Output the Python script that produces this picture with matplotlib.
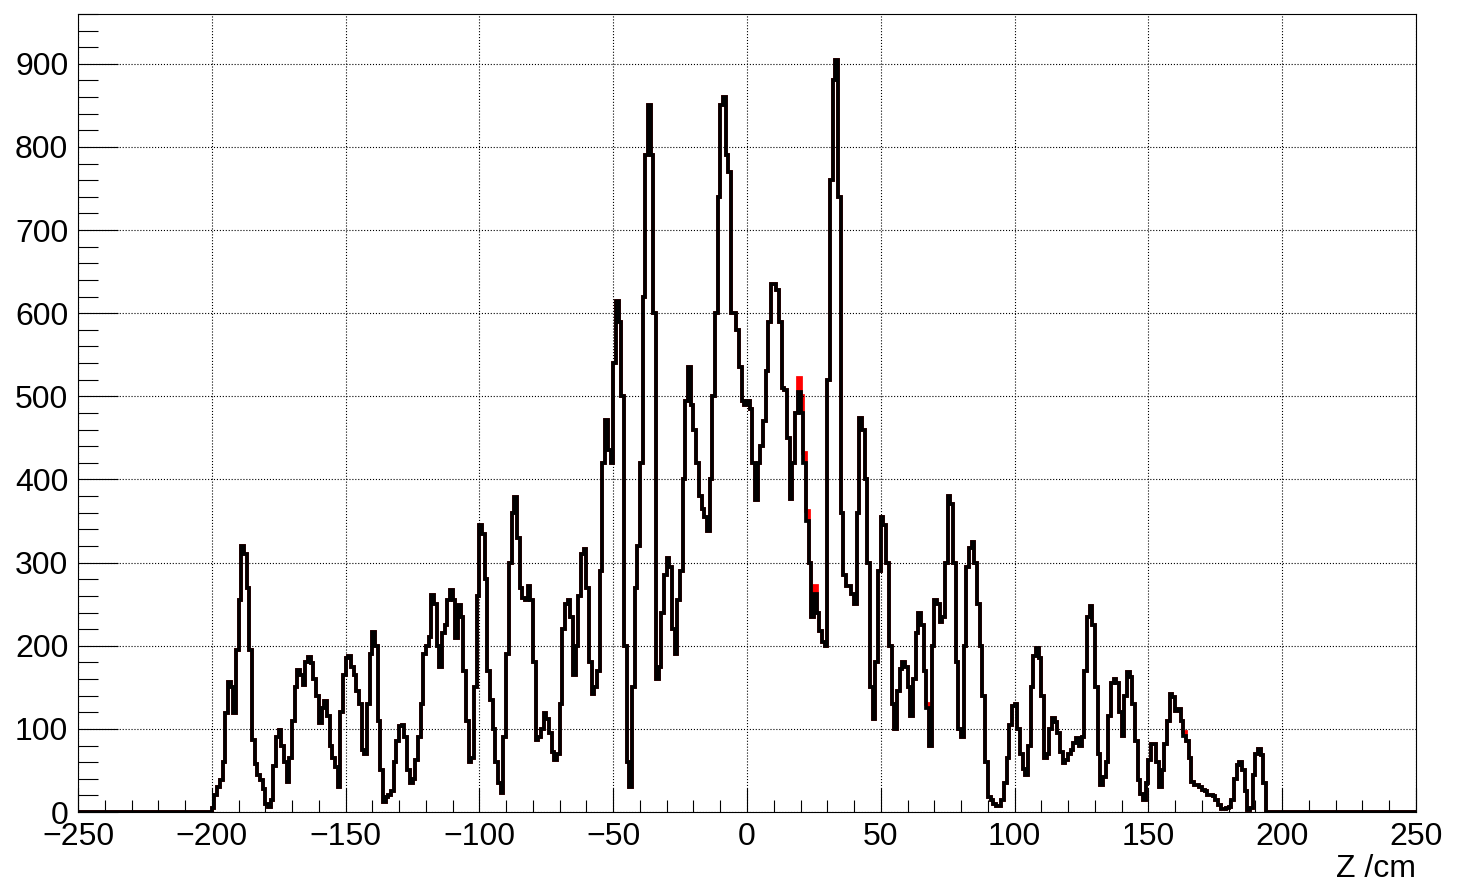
import numpy as np
import matplotlib.pyplot as plt
from matplotlib.ticker import MultipleLocator

plt.rcParams['font.family'] = ['Liberation Sans', 'DejaVu Sans']

# entries per 1 cm bin, starting at Z = -200 cm (empty outside)
z_start = -200
counts = [
    5, 20, 30, 38, 60, 119, 156, 150, 119, 195,            # -200 .. -191
    255, 320, 310, 270, 195, 87, 58, 45, 38, 28,          # -190 .. -181
    10, 6, 14, 55, 90, 99, 80, 60, 36, 65,                # -180 .. -171
    110, 150, 171, 165, 153, 180, 187, 179, 160, 140,     # -170 .. -161
    107, 125, 133, 115, 80, 65, 54, 30, 120, 165,         # -160 .. -151
    185, 188, 175, 165, 145, 130, 75, 70, 130, 190,       # -150 .. -141
    217, 200, 110, 50, 12, 18, 20, 25, 60, 85,            # -140 .. -131
    103, 105, 90, 50, 35, 40, 63, 90, 130, 190,           # -130 .. -121
    200, 210, 261, 250, 200, 175, 215, 225, 255, 267,     # -120 .. -111
    255, 209, 249, 235, 170, 110, 60, 65, 150, 260,       # -110 .. -101
    345, 335, 280, 170, 135, 100, 60, 35, 23, 90,         # -100 .. -91
    190, 300, 360, 379, 330, 270, 257, 255, 272, 255,     # -90 .. -81
    180, 87, 90, 100, 119, 112, 95, 72, 63, 70,           # -80 .. -71
    130, 220, 250, 255, 235, 165, 200, 260, 310, 316,     # -70 .. -61
    270, 180, 142, 150, 170, 290, 420, 472, 435, 420,     # -60 .. -51
    540, 615, 590, 500, 200, 60, 30, 150, 270, 320,       # -50 .. -41
    420, 620, 790, 850, 790, 600, 160, 175, 240, 285,     # -40 .. -31
    305, 295, 220, 190, 255, 290, 400, 495, 535, 490,     # -30 .. -21
    460, 420, 380, 365, 355, 338, 400, 500, 600, 740,     # -20 .. -11
    850, 860, 790, 770, 600, 600, 580, 535, 495, 490,     # -10 .. -1
    495, 485, 420, 375, 420, 440, 470, 530, 590, 635,     # 0 .. 9
    635, 628, 590, 510, 508, 450, 377, 420, 480, 505,     # 10 .. 19
    480, 420, 350, 300, 235, 262, 240, 218, 205, 200,     # 20 .. 29
    520, 760, 880, 905, 740, 360, 285, 272, 272, 262,     # 30 .. 39
    250, 360, 474, 460, 400, 300, 150, 112, 180, 290,     # 40 .. 49
    355, 345, 300, 200, 130, 100, 145, 172, 181, 175,     # 50 .. 59
    150, 115, 160, 215, 240, 225, 170, 125, 80, 200,      # 60 .. 69
    255, 250, 228, 235, 300, 380, 370, 300, 180, 100,     # 70 .. 79
    90, 200, 295, 318, 325, 300, 250, 200, 140, 60,       # 80 .. 89
    18, 14, 10, 7, 7, 15, 35, 65, 105, 128,               # 90 .. 99
    130, 100, 70, 52, 45, 80, 150, 188, 197, 185,         # 100 .. 109
    140, 65, 70, 100, 113, 108, 95, 72, 59, 62,           # 110 .. 119
    70, 74, 83, 89, 80, 90, 170, 235, 248, 225,           # 120 .. 129
    150, 70, 32, 42, 60, 115, 155, 160, 155, 120,         # 130 .. 139
    92, 140, 168, 162, 130, 85, 38, 22, 15, 35,           # 140 .. 149
    62, 82, 82, 60, 30, 50, 82, 110, 142, 138,            # 150 .. 159
    122, 124, 110, 92, 86, 65, 36, 33, 32, 30,            # 160 .. 169
    27, 25, 20, 20, 19, 15, 9, 4, 4, 5,                   # 170 .. 179
    6, 15, 40, 56, 60, 50, 25, 2, 5, 45,                  # 180 .. 189
    70, 76, 68, 35, 0,                                    # 190 .. 194
]

# second (red) histogram: identical except for a few bins
red_changes = {19: 522, 20: 500, 21: 432, 22: 362, 25: 272, 67: 130, 163: 96}

x_ticks = [-250, -200, -150, -100, -50, 0, 50, 100, 150, 200, 250]
y_ticks = [0, 100, 200, 300, 400, 500, 600, 700, 800, 900]

counts_black = np.array([0] + counts + [0], dtype=float)
edges = np.concatenate([[-250], np.arange(z_start, z_start + len(counts) + 1), [250]])
counts_red = counts_black.copy()
for z, v in red_changes.items():
    counts_red[z - z_start + 1] = v

fig = plt.figure(figsize=(14.57, 8.94), dpi=100)
ax = fig.add_axes([78 / 1457, 1 - 812 / 894, (1416 - 78) / 1457, (812 - 14) / 894])

ax.stairs(counts_red, edges, color='red', linewidth=2.7)
ax.stairs(counts_black, edges, color='black', linewidth=2.7)

ax.set_xlim(-250, 250)
ax.set_ylim(0, 960)
ax.set_xticks(x_ticks)
ax.set_yticks(y_ticks)
ax.set_xticklabels([str(t).replace('-', '\u2212') for t in x_ticks])
ax.xaxis.set_minor_locator(MultipleLocator(10))
ax.yaxis.set_minor_locator(MultipleLocator(20))

ax.grid(True, which='major', color='black', linestyle=':', linewidth=0.8)
ax.tick_params(which='both', direction='in', top=False, right=False,
               labelsize=23, width=0.8, color='black')
ax.tick_params(axis='x', which='major', length=17, pad=7)
ax.tick_params(axis='x', which='minor', length=8.6)
ax.tick_params(axis='y', which='major', length=28.8, pad=7)
ax.tick_params(axis='y', which='minor', length=14.4)
for s in ax.spines.values():
    s.set_linewidth(0.8)

fig.text(1416 / 1457, 1 - 869 / 894, 'Z /cm', ha='right', va='center', fontsize=23)

fig.savefig('out.png', dpi=100, facecolor='white')
